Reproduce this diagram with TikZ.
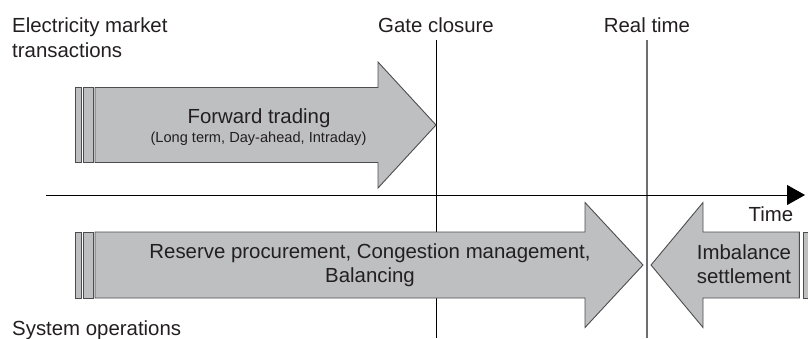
\documentclass[tikz,border=0pt]{standalone}
\usepackage{fontspec}
\setmainfont{Liberation Sans}
\usetikzlibrary{arrows.meta}

\definecolor{arrowfill}{HTML}{BEBFC1}
\definecolor{arrowline}{HTML}{4D4D4F}
\definecolor{inkgray}{HTML}{231F20}
\definecolor{rtline}{HTML}{6D6E71}

\begin{document}
\begin{tikzpicture}[x=1pt,y=-1pt,
  blockarrow/.style={fill=arrowfill,draw=arrowline,line width=0.9pt,line join=miter},
  bigtext/.style={font=\fontsize{20.4}{23.5}\selectfont,text=inkgray,inner sep=0pt},
  smalltext/.style={font=\fontsize{14.6}{17}\selectfont,text=inkgray,inner sep=0pt}]
  \useasboundingbox (0,0) rectangle (808,338);

  % gate closure and real time, behind the arrows
  \coordinate (gatetop) at (436,40);
  \coordinate (gatebot) at (436,338);
  \coordinate (rttop) at (647,40);
  \coordinate (rtbot) at (647,338);
  \draw[line width=0.9pt] (gatetop) -- (gatebot);
  \draw[rtline,line width=1.3pt] (rttop) -- (rtbot);

  % forward trading, market side
  \foreach \xa/\xb in {75.7/81,83/93}
    \draw[blockarrow] (\xa,87.5) rectangle (\xb,162.5);
  \draw[blockarrow] (95,87.5) -- (378,87.5) -- (378,62) -- (436,125)
    -- (378,188) -- (378,162.5) -- (95,162.5) -- cycle;

  % system operations, before and after real time
  \foreach \xa/\xb in {75.7/81,83/93}
    \draw[blockarrow] (\xa,232) rectangle (\xb,298);
  \draw[blockarrow] (95,232) -- (585,232) -- (585,202.5) -- (643,265)
    -- (585,327.5) -- (585,298) -- (95,298) -- cycle;
  \draw[blockarrow] (803.3,232) rectangle (813,298);
  \draw[blockarrow] (799.3,232) -- (703,232) -- (703,202.5) -- (651,265)
    -- (703,327.5) -- (703,298) -- (799.3,298) -- cycle;

  % time axis
  \coordinate (tstart) at (46,195);
  \coordinate (tend) at (805,195);
  \draw[-{Triangle[length=18pt,width=20pt]},line width=0.9pt] (tstart) -- (tend);

  \node[bigtext,anchor=base west] (elec) at (12,32) {Electricity market};
  \node[bigtext,anchor=base west] (trans) at (12,57) {transactions};
  \node[bigtext,anchor=base] (gate) at (436,32) {Gate closure};
  \node[bigtext,anchor=base] (realt) at (647,32) {Real time};
  \node[bigtext,anchor=base] (fwd) at (259,123) {Forward trading};
  \node[smalltext,anchor=base] (fwdsub) at (258.5,142) {(Long term, Day-ahead, Intraday)};
  \node[bigtext,anchor=base] (timelbl) at (771,221) {Time};
  \node[bigtext,align=center] (reserve) at (370,265) {Reserve procurement, Congestion management,\\Balancing};
  \node[bigtext,align=center] (imbal) at (744,264) {Imbalance\\settlement};
  \node[bigtext,anchor=base west] (sysop) at (12,335) {System operations};
\end{tikzpicture}
\end{document}
